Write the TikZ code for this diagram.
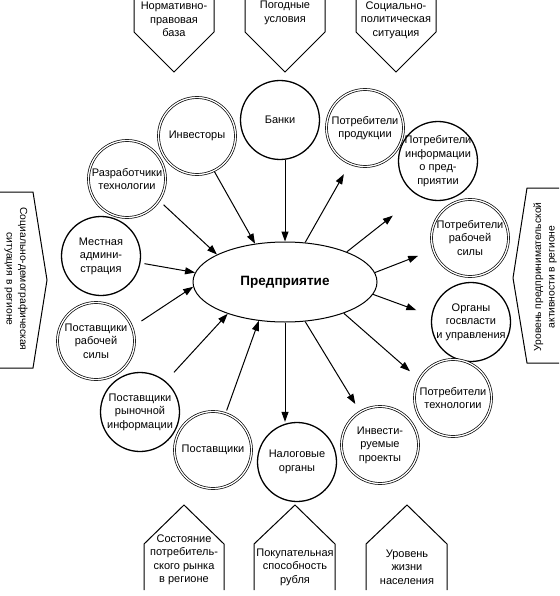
\documentclass[tikz,border=0pt]{standalone}
\usepackage{fontspec}
\setmainfont{Liberation Sans}
\usetikzlibrary{arrows.meta,shapes.geometric}
\begin{document}
\begin{tikzpicture}[x=1pt,y=-1pt,
  txt/.style={font=\fontsize{11}{13.5}\selectfont, align=center, inner sep=0pt},
  sidetxt/.style={font=\fontsize{10.3}{13.5}\selectfont, align=center, inner sep=0pt},
  sgl/.style={circle, draw, line width=1.3pt, minimum size=79pt, inner sep=0pt},
  dbl/.style={circle, draw, line width=0.7pt, double, double distance=1.3pt, minimum size=77pt, inner sep=0pt},
  arr/.style={-{Triangle[length=10pt,width=7pt]}, line width=1pt},
  boxline/.style={line width=1pt}]
\useasboundingbox (0,0) rectangle (559,596);

% central ellipse
\node[ellipse, draw, line width=1pt, minimum width=184pt, minimum height=80pt, inner sep=0pt,
      font=\bfseries\fontsize{13.5}{16}\selectfont] (ent) at (285,282) {Предприятие};

% ring of circles
\node[dbl, label={[txt]center:{Разработчики\\технологии}}] (razr) at (127,179) {};
\node[dbl, label={[txt]center:{Инвесторы}}] (invest) at (197,136) {};
\node[sgl, label={[txt]center:{Банки}}] (banki) at (280,120) {};
\node[dbl, label={[txt]center:{Потребители\\продукции}}] (pprod) at (365,128) {};
\node[sgl, label={[txt]center:{Потребители\\информации\\о пред-\\приятии}}] (pinf) at (438,161) {};
\node[dbl, label={[txt]center:{Потребители\\рабочей\\силы}}] (prab) at (470,238) {};
\node[sgl, label={[txt]center:{Органы\\госвласти\\и управления}}] (organy) at (471,322) {};
\node[dbl, label={[txt]center:{Потребители\\технологии}}] (ptech) at (453,398) {};
\node[dbl, label={[txt]center:{Инвести-\\руемые\\проекты}}] (pinvest) at (380,445) {};
\node[sgl, label={[txt]center:{Налоговые\\органы}}] (nalog) at (297,462) {};
\node[dbl, label={[txt]center:{Поставщики}}] (post) at (213,450) {};
\node[sgl, label={[txt]center:{Поставщики\\рыночной\\информации}}] (prynok) at (140,412) {};
\node[dbl, label={[txt]center:{Поставщики\\рабочей\\силы}}] (psila) at (96,341) {};
\node[sgl, label={[txt]center:{Местная\\админи-\\страция}}] (mestn) at (101,256) {};

% incoming connectors
\draw[arr, shorten <=6pt] (razr.-34) -- (ent.158);
\draw[arr, shorten <=1pt] (invest.-64) -- (ent.128);
\draw[arr] (banki.south -| ent.north) -- (ent.north);
\draw[arr, shorten <=4pt] (mestn.-10) -- (ent.174);
\draw[arr, shorten <=11pt] (psila.21) -- (ent.183);
\draw[arr, shorten <=12pt] (prynok.50) -- (ent.209);
\draw[arr, shorten <=3pt] (post.71) -- (ent.236);

% outgoing connectors
\draw[arr, shorten >=12pt] (ent.63) -- (pprod.247);
\draw[arr, shorten >=32pt] (ent.26) -- (pinf.240);
\draw[arr, shorten >=16pt] (ent.6) -- (prab.198);
\draw[arr, shorten >=16pt] (ent.-8) -- (organy.171);
\draw[arr, shorten >=12pt] (ent.-28) -- (ptech.151);
\draw[arr, shorten >=9pt] (ent.-63) -- (pinvest.121);
\draw[arr] (ent.south) -- (nalog.north -| ent.south);

% top factor boxes
\draw[boxline] (134,0) -- (134,32) -- (174,72) -- (214,32) -- (214,0);
\draw[boxline] (245,0) -- (245,32) -- (285,72) -- (325,32) -- (325,0);
\draw[boxline] (356,0) -- (356,32) -- (396,72) -- (436,32) -- (436,0);
\node[txt] (t1) at (174,19.5) {Нормативно-\\правовая\\база};
\node[txt] (t2) at (285,13) {Погодные\\условия};
\node[txt] (t3) at (396,20) {Социально-\\политическая\\ситуация};

% bottom factor boxes
\draw[boxline] (144,590) -- (144,544) -- (184,505) -- (224,544) -- (224,590);
\draw[boxline] (254,590) -- (254,544) -- (295,505) -- (335,544) -- (335,590);
\draw[boxline] (366,590) -- (366,544) -- (407,505) -- (447,544) -- (447,590);
\node[txt] (b1) at (184,560) {Состояние\\потребитель-\\ского рынка\\в регионе};
\node[txt] (b2) at (295,567) {Покупательная\\способность\\рубля};
\node[txt] (b3) at (407,567) {Уровень\\жизни\\населения};

% side factor boxes
\draw[boxline] (0,192) -- (33,192) -- (47,280) -- (33,368) -- (0,368);
\draw[boxline] (559,188) -- (527,188) -- (513,278) -- (527,363) -- (559,363);
\node[sidetxt, rotate=-90] (lt) at (16,279) {Социально-демографическая\\ситуация в регионе};
\node[sidetxt, rotate=90] (rt) at (545,277) {Уровень предпринимательской\\активности в регионе};
\end{tikzpicture}
\end{document}
